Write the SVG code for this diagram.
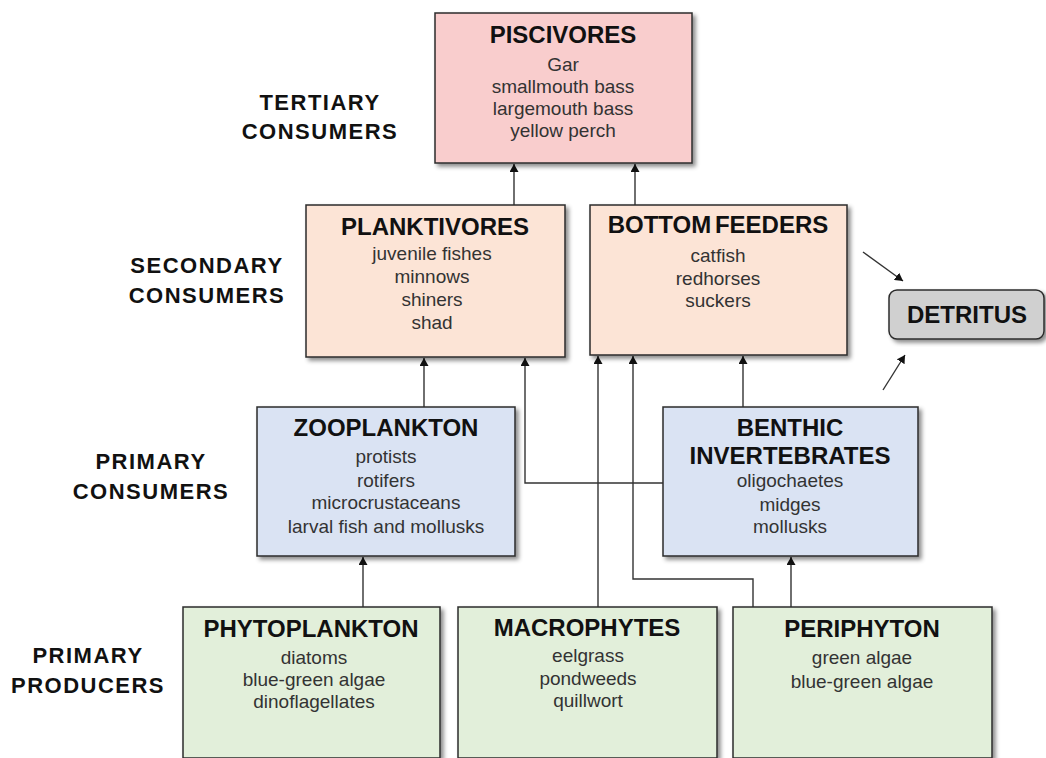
<svg xmlns="http://www.w3.org/2000/svg" width="1046" height="758" viewBox="0 0 1046 758">
<defs>
<filter id="sh" x="-5%" y="-5%" width="115%" height="120%">
<feDropShadow dx="3" dy="3" stdDeviation="2" flood-color="#000" flood-opacity="0.45"/>
</filter>
<marker id="ah" markerUnits="userSpaceOnUse" markerWidth="8" markerHeight="9" refX="8" refY="4.5" orient="auto">
<path d="M0,0 L8,4.5 L0,9 z" fill="#111"/>
</marker>
</defs>
<style>
.box{stroke:#2b2b2b;stroke-width:1.5;filter:url(#sh)}
.pink{fill:#f9cdcd}
.peach{fill:#fce4d6}
.blue{fill:#dae3f3}
.green{fill:#e2efda}
.gray{fill:#d0d0d0}
.t{font-family:"Liberation Sans",Arial,sans-serif;font-weight:bold;font-size:24px;fill:#111;text-anchor:middle}
.b{font-family:"Liberation Sans",Arial,sans-serif;font-size:19px;fill:#333;text-anchor:middle}
.lv{font-family:"Liberation Sans",Arial,sans-serif;font-weight:bold;font-size:22px;letter-spacing:1.5px;fill:#111;text-anchor:middle}
.c{fill:none;stroke:#333;stroke-width:1.4}
</style>
<rect width="1046" height="758" fill="#fff"/>

<g id="levels">
<text class="lv" x="320" y="110">TERTIARY</text>
<text class="lv" x="320" y="139">CONSUMERS</text>
<text class="lv" x="207" y="273">SECONDARY</text>
<text class="lv" x="207" y="303">CONSUMERS</text>
<text class="lv" x="151" y="469">PRIMARY</text>
<text class="lv" x="151" y="499">CONSUMERS</text>
<text class="lv" x="88" y="663">PRIMARY</text>
<text class="lv" x="88" y="693">PRODUCERS</text>
</g>

<g id="connectors">
<path class="c" d="M514,205 V164" marker-end="url(#ah)"/>
<path class="c" d="M635,205 V164" marker-end="url(#ah)"/>
<path class="c" d="M424,407 V358" marker-end="url(#ah)"/>
<path class="c" d="M663,483 H525 V358" marker-end="url(#ah)"/>
<path class="c" d="M743,407 V356" marker-end="url(#ah)"/>
<path class="c" d="M363,607 V557" marker-end="url(#ah)"/>
<path class="c" d="M598,607 V356" marker-end="url(#ah)"/>
<path class="c" d="M753,607 V579 H633 V356" marker-end="url(#ah)"/>
<path class="c" d="M791,607 V557" marker-end="url(#ah)"/>
<path class="c" d="M863,252 L903,281" marker-end="url(#ah)"/>
<path class="c" d="M883,390 L905,355" marker-end="url(#ah)"/>
</g>

<g id="piscivores">
<rect class="box pink" x="435" y="13" width="257" height="150"/>
<text class="t" x="563" y="43">PISCIVORES</text>
<text class="b" x="563" y="71">Gar</text>
<text class="b" x="563" y="93">smallmouth bass</text>
<text class="b" x="563" y="115">largemouth bass</text>
<text class="b" x="563" y="137">yellow perch</text>
</g>

<g id="planktivores">
<rect class="box peach" x="306" y="205" width="259" height="152"/>
<text class="t" x="435" y="235">PLANKTIVORES</text>
<text class="b" x="432" y="260">juvenile fishes</text>
<text class="b" x="432" y="283">minnows</text>
<text class="b" x="432" y="306">shiners</text>
<text class="b" x="432" y="329">shad</text>
</g>

<g id="bottomfeeders">
<rect class="box peach" x="590" y="205" width="257" height="150"/>
<text class="t" x="718" y="233" word-spacing="-3">BOTTOM FEEDERS</text>
<text class="b" x="718" y="262">catfish</text>
<text class="b" x="718" y="285">redhorses</text>
<text class="b" x="718" y="307">suckers</text>
</g>

<g id="detritus">
<rect class="box gray" x="889" y="290" width="155" height="49" rx="8" ry="8"/>
<text class="t" x="967" y="323">DETRITUS</text>
</g>

<g id="zooplankton">
<rect class="box blue" x="257" y="407" width="258" height="149"/>
<text class="t" x="386" y="436">ZOOPLANKTON</text>
<text class="b" x="386" y="463">protists</text>
<text class="b" x="386" y="487">rotifers</text>
<text class="b" x="386" y="509">microcrustaceans</text>
<text class="b" x="386" y="533">larval fish and mollusks</text>
</g>

<g id="benthic">
<rect class="box blue" x="663" y="407" width="255" height="149"/>
<text class="t" x="790" y="436">BENTHIC</text>
<text class="t" x="790" y="464">INVERTEBRATES</text>
<text class="b" x="790" y="487">oligochaetes</text>
<text class="b" x="790" y="511">midges</text>
<text class="b" x="790" y="533">mollusks</text>
</g>

<g id="phytoplankton">
<rect class="box green" x="183" y="607" width="257" height="151"/>
<text class="t" x="311" y="637">PHYTOPLANKTON</text>
<text class="b" x="314" y="664">diatoms</text>
<text class="b" x="314" y="686">blue-green algae</text>
<text class="b" x="314" y="708">dinoflagellates</text>
</g>

<g id="macrophytes">
<rect class="box green" x="458" y="607" width="259" height="151"/>
<text class="t" x="587" y="636">MACROPHYTES</text>
<text class="b" x="588" y="662">eelgrass</text>
<text class="b" x="588" y="685">pondweeds</text>
<text class="b" x="588" y="707">quillwort</text>
</g>

<g id="periphyton">
<rect class="box green" x="733" y="607" width="259" height="151"/>
<text class="t" x="862" y="637">PERIPHYTON</text>
<text class="b" x="862" y="664">green algae</text>
<text class="b" x="862" y="688">blue-green algae</text>
</g>
</svg>
